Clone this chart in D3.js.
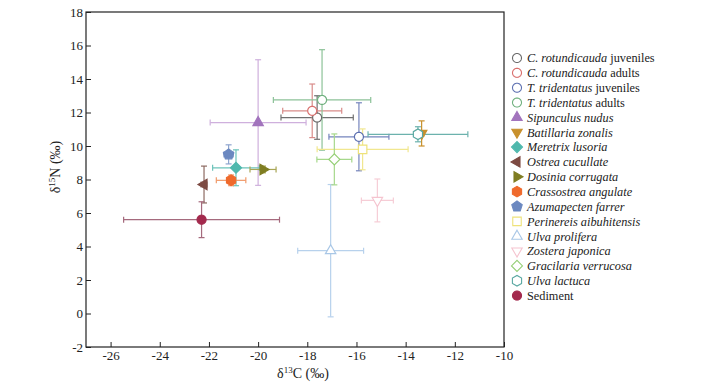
<!DOCTYPE html>
<html>
<head>
<meta charset="utf-8">
<script src="https://cdn.jsdelivr.net/npm/d3@7"></script>
<style>
  body { margin: 0; background: #fff; }
</style>
</head>
<body>
<div id="container"></div>
<script>
const width = 704, height = 387;
const serif = "'Liberation Serif', 'Times New Roman', Times, serif";

// species / groups, in legend order
const names = [
  "C. rotundicauda juveniles", "C. rotundicauda adults", "T. tridentatus juveniles",
  "T. tridentatus adults", "Sipunculus nudus", "Batillaria zonalis", "Meretrix lusoria",
  "Ostrea cucullate", "Dosinia corrugata", "Crassostrea angulate", "Azumapecten farrer",
  "Perinereis aibuhitensis", "Ulva prolifera", "Zostera japonica", "Gracilaria verrucosa",
  "Ulva lactuca", "Sediment"
];
// mean d13C
const c13 = [-17.6, -17.8, -15.9, -17.4, -20.0, -13.35, -20.9, -22.2, -19.8, -21.1, -21.2,
  -15.75, -17.05, -15.15, -16.9, -13.5, -22.3];
// sd d13C
const c13sd = [1.47, 1.2, 1.22, 1.98, 1.95, 0.1, 0.95, 0.12, 0.53, 0.6, 0.19,
  1.85, 1.34, 0.65, 0.71, 2.03, 3.17];
// mean d15N
const n15 = [11.7, 12.1, 10.55, 12.75, 11.4, 10.75, 8.7, 7.7, 8.6, 7.95, 9.5,
  9.8, 3.75, 6.75, 9.2, 10.7, 5.6];
// sd d15N
const n15sd = [1.3, 1.6, 2.03, 3.0, 3.75, 0.75, 1.07, 1.1, 0.2, 0.32, 0.57,
  1.22, 3.95, 1.28, 1.52, 0.45, 1.07];

const xTicks = [-26, -24, -22, -20, -18, -16, -14, -12, -10];
const yTicks = [-2, 0, 2, 4, 6, 8, 10, 12, 14, 16, 18];

// marker styles, same order as names
const colors = ["#6b6b6b", "#d9706e", "#5c6fb0", "#6fb07e", "#a274bd", "#c8902c", "#4fb8ad",
  "#7d4a42", "#7f7d22", "#ef6a2c", "#6b88c0", "#eee27a", "#a9c7e6", "#f5c4cf", "#95cf76",
  "#5aa8a2", "#a3294d"];
const barColors = ["#707070", "#d98c8a", "#7584bd", "#8cc298", "#cfb0dd", "#c8902c", "#6cc3ba",
  "#8d6a62", "#a8a555", "#f09a6a", "#8ea5cf", "#f1e78f", "#b7d1ec", "#f6cdd6", "#a6d88b",
  "#6cb2ad", "#a56a7d"];
const shapes = ["circle", "circle", "circle", "circle", "triUp", "triDown", "diamond", "triLeft",
  "triRight", "hexagon", "pentagon", "square", "triUp", "triDown", "diamond", "hexagon", "circle"];
const filled = [false, false, false, false, true, true, true, true, true, true, true,
  false, false, false, false, false, true];

const x = d3.scaleLinear().domain([-27, -10]).range([86, 504]);
const y = d3.scaleLinear().domain([-2, 18]).range([347, 12]);

function polygon(n, r, rot) {
  const pts = [];
  for (let i = 0; i < n; i++) {
    const a = rot + i * 2 * Math.PI / n;
    pts.push([r * Math.cos(a), r * Math.sin(a)]);
  }
  return "M" + pts.map(p => p.join(",")).join("L") + "Z";
}

function markerPath(shape) {
  switch (shape) {
    case "circle": return polygon(40, 4.5, 0);
    case "triUp": return polygon(3, 6, -Math.PI / 2);
    case "triDown": return polygon(3, 6, Math.PI / 2);
    case "triLeft": return polygon(3, 6, Math.PI);
    case "triRight": return polygon(3, 6, 0);
    case "diamond": return polygon(4, 5.5, 0);
    case "square": return polygon(4, 6, Math.PI / 4);
    case "hexagon": return polygon(6, 5.3, Math.PI / 6);
    case "pentagon": return polygon(5, 5.5, -Math.PI / 2);
  }
}

const svg = d3.select("#container").append("svg")
  .attr("width", width).attr("height", height)
  .style("font-family", serif);

// axes
const xAxis = svg.append("g").attr("transform", "translate(0,347)")
  .call(d3.axisBottom(x).tickValues(xTicks).tickFormat(d => String(d))
    .tickSizeInner(-5).tickSizeOuter(0).tickPadding(4));
const yAxis = svg.append("g").attr("transform", "translate(86,0)")
  .call(d3.axisLeft(y).tickValues(yTicks).tickFormat(d => String(d))
    .tickSizeInner(-5).tickSizeOuter(0).tickPadding(3));
[xAxis, yAxis].forEach(a => {
  a.attr("font-family", serif);
  a.select(".domain").remove();
  a.selectAll("line").attr("stroke", "#222");
  a.selectAll("text").style("font-size", "13px").style("font-family", serif).attr("fill", "#222");
});

svg.append("rect")
  .attr("x", 86).attr("y", 12).attr("width", 418).attr("height", 335)
  .attr("fill", "none").attr("stroke", "#222").attr("stroke-width", 1.2);

// axis titles
const xt = svg.append("text").attr("x", 303).attr("y", 378)
  .attr("text-anchor", "middle").style("font-size", "14px").attr("fill", "#222");
xt.append("tspan").text("δ");
xt.append("tspan").attr("dy", -5).style("font-size", "9px").text("13");
xt.append("tspan").attr("dy", 5).text("C (‰)");

const yt = svg.append("text").attr("transform", "translate(60,167) rotate(-90)")
  .attr("text-anchor", "middle").style("font-size", "14px").attr("fill", "#222");
yt.append("tspan").text("δ");
yt.append("tspan").attr("dy", -5).style("font-size", "9px").text("15");
yt.append("tspan").attr("dy", 5).text("N (‰)");

// data points with error bars
const idx = d3.range(names.length);
const cap = 3;
const pts = svg.append("g");

idx.forEach(i => {
  const g = pts.append("g").attr("stroke", barColors[i]).attr("stroke-width", 1.2).attr("fill", "none");
  const cx = x(c13[i]), cy = y(n15[i]);
  const x0 = x(c13[i] - c13sd[i]), x1 = x(c13[i] + c13sd[i]);
  const y0 = y(n15[i] - n15sd[i]), y1 = y(n15[i] + n15sd[i]);
  g.append("line").attr("x1", x0).attr("x2", x1).attr("y1", cy).attr("y2", cy);
  g.append("line").attr("x1", x0).attr("x2", x0).attr("y1", cy - cap).attr("y2", cy + cap);
  g.append("line").attr("x1", x1).attr("x2", x1).attr("y1", cy - cap).attr("y2", cy + cap);
  g.append("line").attr("x1", cx).attr("x2", cx).attr("y1", y0).attr("y2", y1);
  g.append("line").attr("x1", cx - cap).attr("x2", cx + cap).attr("y1", y0).attr("y2", y0);
  g.append("line").attr("x1", cx - cap).attr("x2", cx + cap).attr("y1", y1).attr("y2", y1);
});

idx.forEach(i => {
  pts.append("path")
    .attr("d", markerPath(shapes[i]))
    .attr("transform", `translate(${x(c13[i])},${y(n15[i])})`)
    .attr("fill", filled[i] ? colors[i] : "#fff")
    .attr("stroke", colors[i])
    .attr("stroke-width", 1.2);
});

// legend
const legend = svg.append("g").attr("transform", "translate(517,58)");
const row = legend.selectAll("g").data(idx).enter().append("g")
  .attr("transform", i => `translate(0,${i * 14.85})`);
row.append("path")
  .attr("d", i => markerPath(shapes[i]))
  .attr("fill", i => filled[i] ? colors[i] : "#fff")
  .attr("stroke", i => colors[i])
  .attr("stroke-width", 1.1);
row.append("text").attr("x", 10).attr("dy", "0.35em").style("font-size", "12.3px")
  .attr("fill", "#222")
  .each(function (i) {
    const t = d3.select(this);
    const nm = names[i];
    if (nm.endsWith(" juveniles") || nm.endsWith(" adults")) {
      const k = nm.lastIndexOf(" ");
      t.append("tspan").style("font-style", "italic").text(nm.slice(0, k));
      t.append("tspan").text(nm.slice(k));
    } else if (nm === "Sediment") {
      t.text(nm);
    } else {
      t.style("font-style", "italic").text(nm);
    }
  });
</script>
</body>
</html>
